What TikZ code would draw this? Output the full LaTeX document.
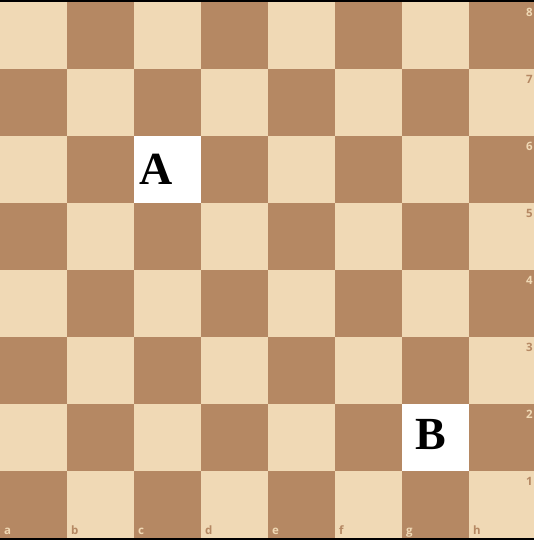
\documentclass[tikz,border=0pt]{standalone}
\usepackage{fontspec}
\newfontfamily\labfont{Open Sans}
\newfontfamily\bigfont{Liberation Serif}
\definecolor{lightsq}{HTML}{F0D9B5}
\definecolor{darksq}{HTML}{B58863}
\begin{document}
\begin{tikzpicture}[x=1pt,y=-1pt,
  sq/.style={draw=none},
  lab/.style={inner sep=0pt,font=\labfont\bfseries\fontsize{11.5}{12}\selectfont},
  big/.style={inner sep=0pt,font=\bigfont\bfseries\fontsize{46}{48}\selectfont,text=black}]
\useasboundingbox (0,0) rectangle (534,540);
\fill[black] (0,0) rectangle (534,540);
\foreach \c in {0,...,7}{
  \foreach \r in {0,...,7}{
    \pgfmathtruncatemacro{\p}{mod(\c+\r,2)}
    \ifnum\p=0 \def\col{lightsq}\else\def\col{darksq}\fi
    \fill[\col] ({67*\c},{2+67*\r}) rectangle ({67*\c+67},{2+67*\r+67});
  }
}
\fill[white] (134,136) rectangle (201,203);
\fill[white] (402,404) rectangle (469,471);
\fill[black] (0,538) rectangle (534,540);
\fill[black] (0,0) rectangle (534,2);
\node[big,anchor=base west] (A) at (139,184) {A};
\node[big,anchor=base west] (B) at (415,449) {B};
\foreach \r/\n in {0/8,1/7,2/6,3/5,4/4,5/3,6/2,7/1}{
  \pgfmathtruncatemacro{\p}{mod(7+\r,2)}
  \ifnum\p=0 \def\tc{darksq}\else\def\tc{lightsq}\fi
  \node[lab,text=\tc,anchor=north east] (r\n) at (533,{2+67*\r+6}) {\n};
}
\foreach \c/\f in {0/a,1/b,2/c,3/d,4/e,5/f,6/g,7/h}{
  \pgfmathtruncatemacro{\p}{mod(\c+7,2)}
  \ifnum\p=0 \def\tc{darksq}\else\def\tc{lightsq}\fi
  \node[lab,text=\tc,anchor=base west] (f\f) at ({67*\c+4},534) {\f};
}
\end{tikzpicture}
\end{document}
